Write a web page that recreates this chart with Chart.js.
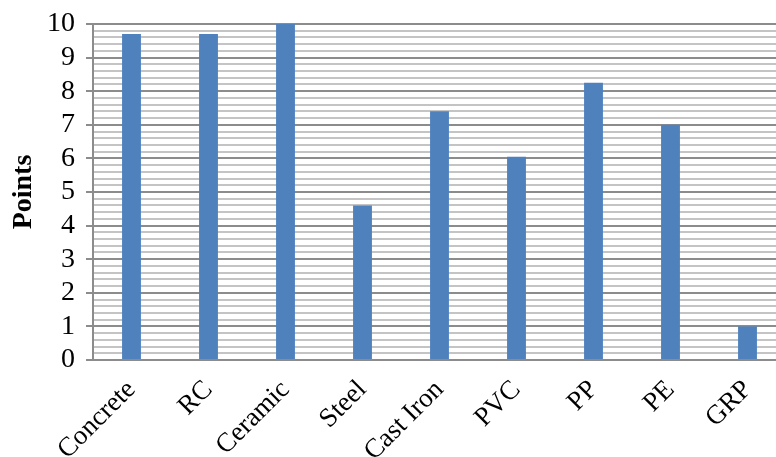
<!DOCTYPE html>
<html>
<head>
<meta charset="utf-8">
<script src="https://cdn.jsdelivr.net/npm/chart.js@4/dist/chart.umd.min.js"></script>
<style>
  html, body { margin: 0; padding: 0; background: #ffffff; overflow: hidden; }
  /* the plot runs slightly past the right edge of the frame */
  #wrap { width: 776px; height: 457px; position: relative; overflow: hidden; }
  #c { display: block; }
</style>
</head>
<body>
<div id="wrap"><canvas id="c" width="786" height="457"></canvas></div>
<script>
// Pipe materials and their scores
const materials = ['Concrete', 'RC', 'Ceramic', 'Steel', 'Cast Iron', 'PVC', 'PP', 'PE', 'GRP'];
const points = [9.7, 9.7, 10, 4.6, 7.4, 6.05, 8.25, 7, 1];
const yMin = 0;
const yMax = 10;
const minorStep = 0.2;

const isMajor = v => Math.abs(v - Math.round(v)) < 1e-6;
const serif = "'Liberation Serif', 'Times New Roman', serif";

new Chart(document.getElementById('c'), {
  type: 'bar',
  data: {
    labels: materials,
    datasets: [{
      label: 'Points',
      data: points,
      backgroundColor: '#4F81BD',
      borderWidth: 0,
      barPercentage: 0.49,
      categoryPercentage: 0.5
    }]
  },
  options: {
    responsive: false,
    animation: false,
    devicePixelRatio: 1,
    layout: { padding: { top: 24, right: 0, left: 0, bottom: 0 } },
    plugins: { legend: { display: false }, tooltip: { enabled: false } },
    scales: {
      x: {
        grid: { display: false, drawTicks: false },
        border: { display: true, color: '#8c8c8c', width: 2 },
        ticks: {
          color: '#000',
          font: { family: serif, size: 27 },
          minRotation: 45,
          maxRotation: 45,
          padding: 14,
          autoSkip: false
        },
        afterFit: s => { s.height = 97; s.paddingLeft = 0; s.paddingRight = 0; }
      },
      y: {
        min: yMin,
        max: yMax,
        title: {
          display: true,
          text: 'Points',
          color: '#000',
          font: { family: serif, size: 28, weight: 'bold' },
          padding: { top: 7, bottom: 4 }
        },
        border: { display: true, color: '#8c8c8c', width: 2 },
        grid: {
          drawTicks: true,
          tickLength: 7,
          lineWidth: 2,
          color: ctx => isMajor(ctx.tick.value) ? '#8c8c8c' : '#c4c4c4',
          tickColor: ctx => isMajor(ctx.tick.value) ? '#8c8c8c' : 'rgba(0,0,0,0)'
        },
        ticks: {
          stepSize: minorStep,
          autoSkip: false,
          color: '#000',
          padding: 11,
          font: { family: serif, size: 28 },
          callback: v => isMajor(v) ? String(Math.round(v)) : ''
        },
        afterFit: s => { s.width = 93; s.paddingTop = 0; s.paddingBottom = 0; }
      }
    }
  }
});
</script>
</body>
</html>
